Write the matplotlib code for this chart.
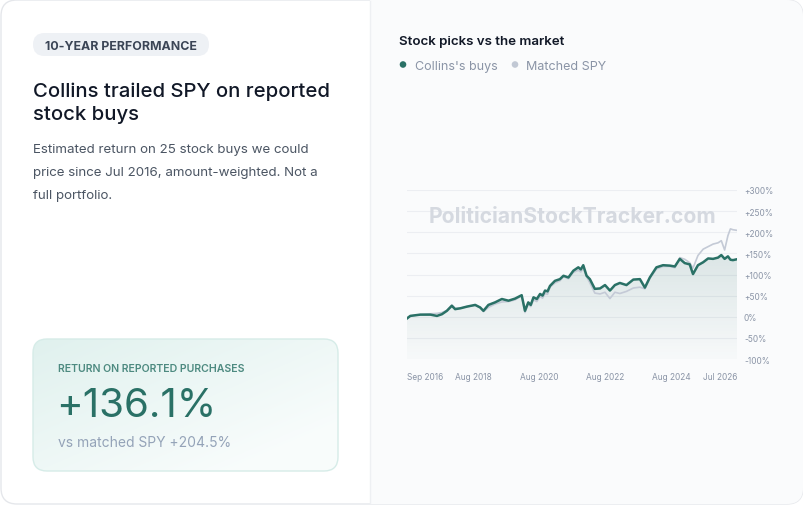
import numpy as np
import matplotlib
matplotlib.use("Agg")
import matplotlib.pyplot as plt
from matplotlib.patches import FancyBboxPatch, Rectangle, Polygon, Circle

plt.rcParams['font.family'] = ['Inter', 'DejaVu Sans']

# months since Aug 2016
months = [0, 1.2, 4.8, 8.5, 10.9, 12.7, 14.5, 16.3, 17.5, 19.4, 21.8, 24.8, 26.6, 27.8,
          29.6, 32.0, 34.5, 36.9, 39.3, 41.7, 42.9, 44.1, 45.0, 46.0, 47.2, 48.4, 49.3,
          50.2, 51.1, 52.0, 53.8, 55.6, 56.9, 58.7, 60.5, 62.3, 63.2, 64.1, 65.3, 66.5,
          68.3, 70.2, 72.0, 73.8, 75.6, 77.4, 79.8, 82.3, 84.7, 86.5, 88.3, 90.7, 93.1,
          95.6, 97.4, 99.2, 101.0, 102.8, 104.0, 105.8, 107.7, 109.5, 111.3, 113.1, 114.3,
          115.5, 116.7, 117.6, 118.5, 120.0]
collins = [-4, 2, 5, 5, 2, 6, 14, 26, 18, 20, 24, 28, 22, 14,
           28, 34, 42, 38, 43, 51, 14, 34, 28, 46, 42, 54, 50,
           62, 60, 73, 85, 89, 97, 93, 109, 117, 112, 122, 97, 89,
           66, 67, 75, 62, 75, 80, 75, 88, 89, 69, 93, 117, 122,
           121, 119, 137, 127, 124, 101, 122, 129, 138, 137, 140, 146,
           137, 143, 135, 134, 136.1]
spy = [-4, 2, 5, 7, 8, 10, 15, 28, 20, 20, 24, 27, 22, 12,
       22, 30, 35, 36, 40, 50, 10, 30, 24, 40, 36, 48, 44,
       55, 53, 70, 80, 85, 95, 90, 105, 110, 106, 114, 95, 80,
       56, 54, 58, 43, 58, 55, 60, 68, 70, 66, 91, 113, 119,
       119, 116, 140, 136, 128, 115, 145, 160, 166, 172, 175, 180,
       158, 192, 208, 206, 204.5]

tick_months = [0, 24, 48, 72, 96, 120]
tick_labels = ['Sep 2016', 'Aug 2018', 'Aug 2020', 'Aug 2022', 'Aug 2024', 'Jul 2026']
y_ticks = [-100, -50, 0, 50, 100, 150, 200, 250, 300]

TEAL = '#2a7166'
GRAYLINE = '#c4cad6'
MUTED = '#8a94a6'

W, H = 804, 506
fig = plt.figure(figsize=(W / 100, H / 100), dpi=100)
fig.patch.set_facecolor('white')

# background canvas in pixel coordinates
bg = fig.add_axes([0, 0, 1, 1])
bg.set_xlim(0, W)
bg.set_ylim(H, 0)
bg.axis('off')

card = FancyBboxPatch((1, 1), W - 2, H - 2, boxstyle='round,pad=0,rounding_size=16',
                      fc='white', ec='#e5e7eb', lw=1)
bg.add_patch(card)
right = Rectangle((370, 0), W - 370, H, fc='#fafbfc', ec='none')
bg.add_patch(right)
right.set_clip_path(card)
bg.plot([370, 370], [2, H - 2], color='#eef0f3', lw=1)

# pill
pill = FancyBboxPatch((33, 34), 176, 23, boxstyle='round,pad=0,rounding_size=11.5',
                      fc='#eef1f5', ec='none')
bg.add_patch(pill)
bg.text(121, 50, '10-YEAR PERFORMANCE', ha='center', va='baseline', fontsize=8.9,
        fontweight='bold', color='#3b4556')

bg.text(33, 97, 'Collins trailed SPY on reported', fontsize=14.6, fontweight='medium',
        color='#111827', va='baseline')
bg.text(33, 120, 'stock buys', fontsize=14.6, fontweight='medium', color='#111827',
        va='baseline')
for i, line in enumerate(['Estimated return on 25 stock buys we could',
                          'price since Jul 2016, amount-weighted. Not a',
                          'full portfolio.']):
    bg.text(33, 153 + 23 * i, line, fontsize=9.6, color='#4b5563', va='baseline')

# return box with gradient
box = FancyBboxPatch((33, 340), 305, 132, boxstyle='round,pad=0,rounding_size=14',
                     fc='none', ec='#d6ece8', lw=1)
bg.add_patch(box)
gx, gy = np.meshgrid(np.linspace(0, 1, 200), np.linspace(0, 1, 100))
t = np.clip((gx * 0.6 + gy * 0.6), 0, 1)
c0 = np.array([0.878, 0.945, 0.933])
c1 = np.array([0.975, 0.990, 0.988])
grad = c0[None, None, :] * (1 - t[..., None]) + c1[None, None, :] * t[..., None]
im = bg.imshow(grad, extent=(33, 338, 472, 340), aspect='auto', zorder=1)
im.set_clip_path(box)
box.set_zorder(2)
bg.text(58, 372.5, 'RETURN ON REPORTED PURCHASES', fontsize=7.6, fontweight='semibold',
        color='#4d8a80', va='baseline', zorder=3)
bg.text(56, 417, '+136.1%', fontsize=29, color=TEAL, va='baseline', zorder=3)
bg.text(58, 447, 'vs matched SPY +204.5%', fontsize=10, color='#94a3b8', va='baseline',
        zorder=3)

# right panel header and legend
bg.text(399, 45, 'Stock picks vs the market', fontsize=9.6, fontweight='semibold',
        color='#111827', va='baseline')
bg.add_patch(Circle((403, 65.5), 3.3, fc=TEAL, ec='none'))
bg.text(415, 69.5, "Collins's buys", fontsize=9, color=MUTED, va='baseline')
bg.add_patch(Circle((515, 65.5), 3.3, fc='#c1c8d4', ec='none'))
bg.text(526, 69.5, 'Matched SPY', fontsize=9, color=MUTED, va='baseline')

# chart
x0, x1 = 407, 737
ytop, ybot = 191, 360
ax = fig.add_axes([x0 / W, 1 - ybot / H, (x1 - x0) / W, (ybot - ytop) / H])
ax.set_facecolor('none')

for v in y_ticks:
    ax.axhline(v, color='#eceef2', lw=0.8, zorder=0)

ax.plot(months, spy, color=GRAYLINE, lw=1.2, zorder=3)

verts = [(months[0], -100)] + list(zip(months, collins)) + [(months[-1], -100)]
poly = Polygon(verts, closed=True, fc='none', ec='none')
ax.add_patch(poly)
fy = np.linspace(0, 1, 256)[:, None]
fill = np.zeros((256, 2, 4))
fill[..., 0] = 0.17
fill[..., 1] = 0.42
fill[..., 2] = 0.40
fill[..., 3] = 0.15 * (1 - fy) + 0.015 * fy
fim = ax.imshow(fill, extent=(0, 120, -100, 150), origin='upper', aspect='auto', zorder=1)
fim.set_clip_path(poly)
ax.set_xlim(0, 120)
ax.set_ylim(-100, 300)

ax.plot(months, collins, color=TEAL, lw=1.8, zorder=4, solid_joinstyle='round')

for s in ax.spines.values():
    s.set_visible(False)
ax.yaxis.tick_right()
ax.set_yticks(y_ticks)
ax.set_yticklabels([f'+{v}%' if v > 0 else f'{v}%' for v in y_ticks])
ax.set_xticks(tick_months)
ax.set_xticklabels(tick_labels)
ax.tick_params(length=0, labelsize=6, labelcolor=MUTED, pad=4)
ax.tick_params(axis='y', pad=5)
ax.tick_params(axis='x', pad=9)
xl = ax.get_xticklabels()
xl[0].set_ha('left')
xl[-1].set_ha('right')

ax.text(0.5, 0.845, 'PoliticianStockTracker.com', transform=ax.transAxes, ha='center',
        va='center', fontsize=15.2, fontweight='bold', color='#d5d9e0', zorder=2)

fig.savefig('out.png', dpi=100)
